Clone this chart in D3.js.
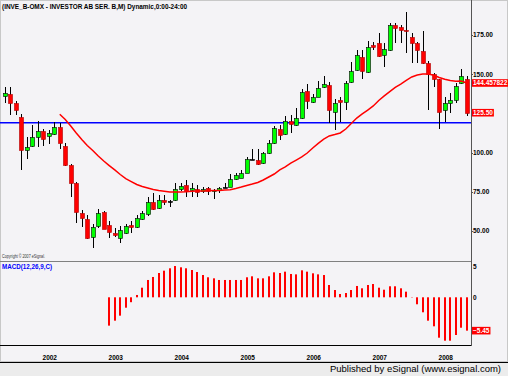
<!DOCTYPE html>
<html><head><meta charset="utf-8">
<script src="https://cdn.jsdelivr.net/npm/d3@7/dist/d3.min.js"></script>
<style>html,body{margin:0;padding:0;background:#fff}svg{display:block}</style>
</head><body>
<svg id="chart" width="508" height="376"></svg>
<script>
// ---------- DATA ----------
const months = d3.utcMonth.range(new Date(Date.UTC(2001,4,1)), new Date(Date.UTC(2008,5,1))).map(d3.utcFormat("%Y-%m"));
const opens = [136.6,137.4,131.9,122.6,101.7,104.7,110.2,114.0,111.1,111.9,
116.2,104.3,92.0,80.5,61.7,57.9,46.4,53.3,62.2,53.7,
49.0,45.6,49.0,53.7,52.8,57.9,60.9,68.6,64.7,69.8,
69.5,69.4,77.0,79.2,75.8,77.0,75.8,77.3,75.8,76.4,
78.4,78.3,83.2,84.3,87.2,96.0,95.3,93.2,99.6,106.0,
114.9,111.9,120.0,117.5,122.1,139.5,132.8,135.7,141.9,143.0,
126.0,133.9,131.9,145.1,152.7,161.2,151.9,168.9,170.2,162.1,
165.5,181.3,180.0,178.3,173.6,169.8,164.7,157.4,150.2,146.8,
127.2,131.5,133.6,144.3,147.2];
const highs = [141.7,141.7,133.2,124.7,110.2,117.5,120.0,115.3,114.5,119.6,
119.1,106.0,92.8,81.3,63.5,60.1,54.5,63.9,62.6,56.6,
52.0,53.3,54.5,56.4,60.1,62.6,71.6,74.1,72.8,72.8,
69.8,80.5,80.5,82.4,80.5,79.2,77.9,77.9,76.7,77.9,
80.4,86.4,87.1,88.8,97.1,102.6,102.6,100.4,108.1,117.0,
117.5,123.4,123.9,128.5,140.8,143.8,137.4,145.5,148.9,145.1,
134.4,135.5,145.5,157.8,165.5,165.5,171.0,170.6,176.1,169.8,
182.5,182.9,181.6,189.7,176.1,170.6,177.8,158.7,151.0,147.2,
135.3,138.3,144.3,153.6,148.9];
const lows = [131.9,124.0,124.0,89.0,95.8,103.8,103.4,104.3,105.5,111.1,
102.6,91.5,71.9,55.4,52.8,44.8,39.2,52.0,51.1,45.6,
46.4,42.1,48.1,48.8,52.0,57.1,59.6,63.5,64.3,66.6,
65.2,69.0,75.8,71.9,71.9,71.9,74.1,72.8,70.2,74.1,
77.5,77.9,82.4,83.7,86.9,95.3,92.3,92.8,99.2,105.5,
108.1,111.5,112.8,117.0,121.7,128.1,131.9,135.3,141.3,118.7,
114.3,119.6,127.2,144.6,151.9,147.2,151.0,165.5,161.2,154.8,
165.1,170.2,170.2,163.8,157.0,157.0,156.6,127.2,142.1,114.9,
119.6,125.5,131.5,143.8,123.4];
const closes = [138.3,131.9,127.7,101.3,103.4,110.2,114.0,109.2,112.8,116.2,
106.0,92.0,80.5,62.2,58.4,45.6,52.8,61.4,51.5,49.0,
47.7,50.7,53.3,52.6,58.4,61.7,68.4,64.3,69.8,68.6,
69.5,76.7,78.8,75.4,77.3,75.3,77.0,75.4,76.5,77.5,
78.4,83.4,85.5,87.2,96.2,96.0,92.8,99.6,106.0,115.8,
111.1,120.4,118.1,122.1,138.7,133.0,135.8,141.3,143.5,126.8,
131.7,132.7,144.3,152.3,162.1,152.3,167.6,167.6,162.1,165.9,
181.6,179.5,178.3,177.4,169.8,165.5,157.0,150.2,146.8,126.0,
131.5,133.6,142.5,148.9,125.5];
const maStartIndex = 10;
const maValues = [124.5,121.2,117.0,112.6,108.4,104.6,101.4,97.9,94.7,91.8,
89.0,86.1,83.5,81.6,79.7,78.4,77.5,76.5,75.9,75.4,
74.9,74.9,74.9,75.1,75.4,75.6,75.6,75.8,75.9,75.9,
76.2,76.4,77.2,78.1,79.1,80.0,81.0,82.6,84.5,86.4,
89.0,90.9,93.4,95.3,97.3,99.8,103.0,105.9,108.7,110.7,
111.6,112.6,115.1,118.6,122.1,124.7,127.2,129.8,133.3,136.2,
139.0,141.6,143.8,146.2,148.3,149.6,150.2,150.2,149.4,148.0,
146.8,146.0,145.5,145.7,144.457822];
const macdStartIndex = 19;
const macdValues = [-4.63,-3.82,-3.0,-1.7,-0.8,0.38,1.57,2.83,3.32,3.97,
4.35,4.74,5.11,4.9,4.74,4.46,4.13,3.64,3.27,3.1,
2.83,2.83,2.83,2.83,2.83,3.27,3.43,3.1,3.1,3.43,
4.08,3.97,4.19,3.81,3.75,4.41,4.19,3.92,3.75,3.64,
2.01,1.19,0.54,0.7,1.19,1.85,1.47,2.01,2.17,1.57,
1.24,1.8,1.8,1.47,0.92,0.05,-1.14,-2.45,-3.82,-4.74,
-6.6,-7.09,-7.09,-6.16,-4.97,-5.45];
const priceTicks = [50,75,100,150,175];
const macdTicks = [0,5];
const yearLabels = ["2002","2003","2004","2005","2006","2007","2008"];
const supportLevel = 119.1;
const title = "(INVE_B-OMX - INVESTOR AB SER. B,M) Dynamic,0:00-24:00";

// ---------- LAYOUT ----------
const svg = d3.select("#chart");
const W = 508, H = 376, axisX = 471;
const bg = "#f4f3f6";
svg.append("rect").attr("width",W).attr("height",H).attr("fill",bg);

const x = d3.scaleBand().domain(months).range([2, 469.5]).padding(0);
const cx = m => Math.round(x(m) + x.bandwidth()/2) + 0.5;
const y = d3.scaleLinear().domain([50,175]).range([231.1,35.1]);
const ym = d3.scaleLinear().domain([-5,5]).range([327.9,266.7]);

// frame lines
svg.append("rect").attr("x",0.5).attr("y",0.5).attr("width",W-1).attr("height",361).attr("fill","none").attr("stroke","#c8c8c8");
svg.append("line").attr("x1",0).attr("x2",axisX).attr("y1",261.5).attr("y2",261.5).attr("stroke","#808080");
svg.append("line").attr("x1",0).attr("x2",axisX).attr("y1",345.5).attr("y2",345.5).attr("stroke","#000");
svg.append("line").attr("x1",axisX+0.5).attr("x2",axisX+0.5).attr("y1",0).attr("y2",346).attr("stroke","#555");
svg.append("rect").attr("x",0).attr("y",362).attr("width",W).attr("height",14).attr("fill","#ececec");
svg.append("line").attr("x1",0).attr("x2",W).attr("y1",362.5).attr("y2",362.5).attr("stroke","#000");

const font = "'Liberation Sans', Arial, sans-serif";

// title
svg.append("text").attr("x",2).attr("y",9).attr("font-family",font).attr("font-weight","bold")
  .attr("font-size",7.5).attr("textLength",185).attr("lengthAdjust","spacingAndGlyphs").attr("fill","#000").text(title);
// copyright
svg.append("text").attr("x",2).attr("y",258).attr("font-family",font).attr("font-size",4.5)
  .attr("textLength",43).attr("lengthAdjust","spacingAndGlyphs").attr("fill","#333").text("Copyright © 2007 eSignal.");
// MACD label
svg.append("text").attr("x",2).attr("y",269).attr("font-family",font).attr("font-weight","bold").attr("font-size",7)
  .attr("textLength",50).attr("lengthAdjust","spacingAndGlyphs").attr("fill","#0000ff").text("MACD(12,26,9,C)");

// support line
svg.append("line").attr("x1",0).attr("x2",axisX).attr("y1",y(supportLevel)).attr("y2",y(supportLevel))
  .attr("stroke","#0000ff").attr("stroke-width",1.5);

// candles
const candles = months.map((m,i)=>({m,o:opens[i],h:highs[i],l:lows[i],c:closes[i]}));
const g = svg.append("g");
g.selectAll("line.wick").data(candles).join("line").attr("class","wick")
  .attr("x1",d=>cx(d.m)).attr("x2",d=>cx(d.m))
  .attr("y1",d=>Math.round(y(d.h))).attr("y2",d=>Math.round(y(d.l)))
  .attr("stroke","#000").attr("stroke-width",1);
g.selectAll("rect.body").data(candles).join("rect").attr("class","body")
  .attr("x",d=>cx(d.m)-2).attr("width",4)
  .attr("y",d=>Math.round(y(Math.max(d.o,d.c)))+0.5)
  .attr("height",d=>Math.max(1,Math.round(Math.abs(y(d.o)-y(d.c)))))
  .attr("fill",d=>d.c>d.o?"#00ff00":(d.c<d.o?"#ff0000":"#000"))
  .attr("stroke",d=>d.c>d.o?"#000":(d.c<d.o?"#b00000":"#000")).attr("stroke-width",0.6);

// MA line
const ma = maValues.map((v,k)=>({m:months[maStartIndex+k],v}));
svg.append("path").datum(ma).attr("fill","none").attr("stroke","#ff0000").attr("stroke-width",1.5)
  .attr("d",d3.line().x(d=>x(d.m)+x.bandwidth()/2).y(d=>y(d.v)));

// MACD histogram
const macd = macdValues.map((v,k)=>({m:months[macdStartIndex+k],v}));
svg.append("g").selectAll("rect").data(macd).join("rect")
  .attr("x",d=>cx(d.m)-1.5).attr("width",2)
  .attr("y",d=>Math.min(ym(0),ym(d.v))).attr("height",d=>Math.abs(ym(d.v)-ym(0)))
  .attr("fill","#ff0000");

// right axis labels
const lab = svg.append("g").attr("font-family",font).attr("font-weight","bold").attr("font-size",6.5);
lab.selectAll("text.p").data(priceTicks).join("text").attr("class","p")
  .attr("x",axisX+2).attr("y",d=>y(d)+2.3).attr("fill","#000").text(d=>d3.format(".2f")(d));
lab.selectAll("text.m").data(macdTicks).join("text").attr("class","m")
  .attr("x",axisX+2).attr("y",d=>ym(d)+2.3).attr("fill","#000").text(d=>d);
svg.selectAll("line.tk").data(priceTicks).join("line").attr("class","tk")
  .attr("x1",axisX).attr("x2",axisX+2).attr("y1",d=>Math.round(y(d))+0.5).attr("y2",d=>Math.round(y(d))+0.5).attr("stroke","#555");

function flag(val, yy, txt){
  const t = lab.append("text").attr("x",axisX+2).attr("y",yy+2.3).attr("fill","#fff").text(txt);
  const w = t.node().getComputedTextLength();
  lab.insert("rect","text:last-child").attr("x",axisX+1).attr("y",yy-3.8).attr("width",w+2).attr("height",7.6).attr("fill","#ff0000");
  t.raise();
}
flag(maValues[maValues.length-1], y(maValues[maValues.length-1]), String(maValues[maValues.length-1]));
flag(closes[closes.length-1], y(closes[closes.length-1]), d3.format(".2f")(closes[closes.length-1]));
flag(macdValues[macdValues.length-1], ym(macdValues[macdValues.length-1]), d3.format(".2f")(macdValues[macdValues.length-1]));

// year labels
svg.append("g").attr("font-family",font).attr("font-weight","bold").attr("font-size",6.5).attr("text-anchor","middle")
  .selectAll("text").data(yearLabels).join("text")
  .attr("x",d=>x(d+"-01")+x.bandwidth()/2+1).attr("y",359.5).attr("fill","#000").text(d=>d);

// footer
svg.append("text").attr("x",501).attr("y",371.5).attr("text-anchor","end").attr("font-family",font)
  .attr("font-size",9.5).attr("fill","#000")
  .text("Published by eSignal (www.esignal.com)");
</script>
</body></html>
